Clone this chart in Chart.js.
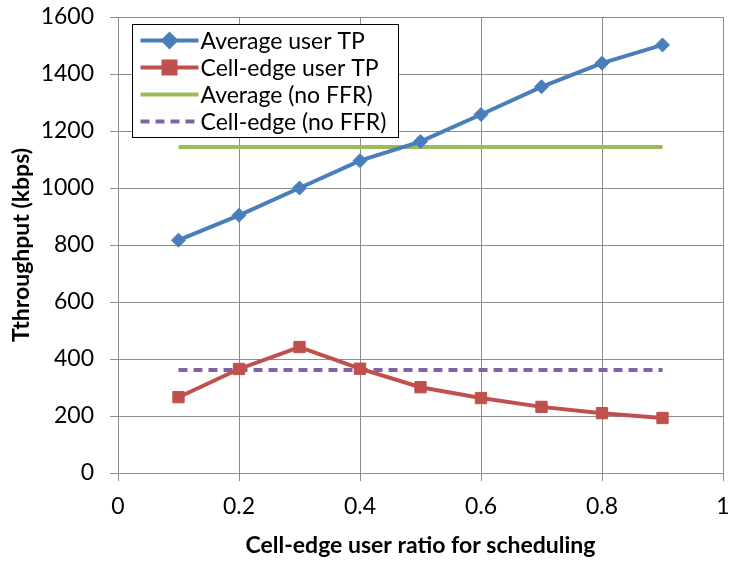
<!DOCTYPE html>
<html lang="en">
<head>
  <meta charset="UTF-8" />
  <title>Throughput vs cell-edge user ratio</title>
  <script src="https://cdn.jsdelivr.net/npm/chart.js"></script>
  <style>
    body {
      margin: 0;
      background: #fff;
    }
    .wrap {
      width: 732px;
      height: 563px;
    }
  </style>
</head>
<body>

<div class="wrap">
  <canvas id="tpChart" width="732" height="563"></canvas>
</div>

<script>
  const ratios = [0.1, 0.2, 0.3, 0.4, 0.5, 0.6, 0.7, 0.8, 0.9];
  const avgUserTp = [817, 904, 1000, 1096, 1163, 1258, 1355, 1438, 1502];
  const edgeUserTp = [266, 365, 442, 366, 301, 263, 232, 210, 193];
  const avgNoFfr = [1144, 1144, 1144, 1144, 1144, 1144, 1144, 1144, 1144];
  const edgeNoFfr = [361, 361, 361, 361, 361, 361, 361, 361, 361];

  const xTicks = [0, 0.2, 0.4, 0.6, 0.8, 1];
  const yTicks = [0, 200, 400, 600, 800, 1000, 1200, 1400, 1600];

  const FONT = 'Lato, "Open Sans", sans-serif';
  const FSIZE = 23;
  const GRID = '#8c8c8c';

  function points(ys) {
    return ratios.map((x, i) => ({ x: x, y: ys[i] }));
  }

  // legend drawn as a boxed panel inside the plot, top-left
  const insideLegend = {
    id: 'insideLegend',
    afterDraw(chart) {
      const ctx = chart.ctx;
      const box = { x: 132.5, y: 24.5, w: 266, h: 113 };
      const rowH = 27;
      ctx.save();
      ctx.fillStyle = '#fff';
      ctx.fillRect(box.x, box.y, box.w, box.h);
      ctx.strokeStyle = '#000';
      ctx.lineWidth = 1;
      ctx.strokeRect(box.x, box.y, box.w, box.h);

      chart.data.datasets.forEach((ds, i) => {
        const cy = box.y + 16 + i * rowH;
        const x0 = box.x + 8, x1 = box.x + 66;
        ctx.beginPath();
        ctx.setLineDash(ds.borderDash || []);
        ctx.strokeStyle = ds.borderColor;
        ctx.lineWidth = ds.borderWidth;
        ctx.lineCap = 'butt';
        ctx.moveTo(x0, cy);
        ctx.lineTo(x1, cy);
        ctx.stroke();
        ctx.setLineDash([]);

        const mx = (x0 + x1) / 2;
        ctx.fillStyle = ds.pointBackgroundColor;
        if (ds.pointStyle === 'rectRot') {
          const r = 9;
          ctx.beginPath();
          ctx.moveTo(mx, cy - r);
          ctx.lineTo(mx + r, cy);
          ctx.lineTo(mx, cy + r);
          ctx.lineTo(mx - r, cy);
          ctx.closePath();
          ctx.fill();
        } else if (ds.pointStyle === 'rect') {
          ctx.fillRect(mx - 8, cy - 8, 16, 16);
        }

        ctx.fillStyle = '#000';
        ctx.font = FSIZE + 'px ' + FONT;
        ctx.textBaseline = 'middle';
        ctx.textAlign = 'left';
        ctx.fillText(ds.label, box.x + 68, cy + 1);
      });
      ctx.restore();
    }
  };

  const ctx = document.getElementById('tpChart').getContext('2d');

  new Chart(ctx, {
    type: 'line',
    data: {
      datasets: [
        {
          label: 'Average user TP',
          data: points(avgUserTp),
          borderColor: '#4a7ebb',
          backgroundColor: '#4a7ebb',
          pointBackgroundColor: '#4a7ebb',
          pointBorderColor: '#4a7ebb',
          borderWidth: 4,
          pointStyle: 'rectRot',
          pointRadius: 7,
          pointBorderWidth: 1
        },
        {
          label: 'Cell-edge user TP',
          data: points(edgeUserTp),
          borderColor: '#c0504d',
          backgroundColor: '#c0504d',
          pointBackgroundColor: '#c0504d',
          pointBorderColor: '#c0504d',
          borderWidth: 4,
          pointStyle: 'rect',
          pointRadius: 8,
          pointBorderWidth: 1
        },
        {
          label: 'Average (no FFR)',
          data: points(avgNoFfr),
          borderColor: '#9bbb59',
          backgroundColor: '#9bbb59',
          borderWidth: 4,
          pointRadius: 0
        },
        {
          label: 'Cell-edge (no FFR)',
          data: points(edgeNoFfr),
          borderColor: '#8064a2',
          backgroundColor: '#8064a2',
          borderWidth: 4,
          borderDash: [9, 6],
          pointRadius: 0
        }
      ]
    },
    options: {
      responsive: false,
      animation: false,
      layout: { padding: { top: 17, right: 9, left: 0, bottom: 0 } },
      plugins: {
        legend: { display: false },
        tooltip: { enabled: false }
      },
      scales: {
        x: {
          type: 'linear',
          min: 0,
          max: 1,
          afterBuildTicks(scale) {
            scale.ticks = xTicks.map(v => ({ value: v }));
          },
          afterFit(scale) {
            scale.height = 90;
            scale.paddingLeft = 0;
            scale.paddingRight = 0;
          },
          grid: { color: GRID, lineWidth: 1, tickLength: 8 },
          border: { color: GRID, width: 1 },
          ticks: {
            color: '#000',
            font: { family: FONT, size: FSIZE },
            padding: 12,
            maxRotation: 0,
            callback: v => String(Math.round(v * 10) / 10)
          },
          title: {
            display: true,
            text: 'Cell-edge user ratio for scheduling',
            color: '#000',
            font: { family: FONT, size: FSIZE, weight: 'bold' },
            padding: { top: 8, bottom: 4 }
          }
        },
        y: {
          min: 0,
          max: 1600,
          afterBuildTicks(scale) {
            scale.ticks = yTicks.map(v => ({ value: v }));
          },
          afterFit(scale) {
            scale.width = 118;
            scale.paddingTop = 0;
            scale.paddingBottom = 0;
          },
          grid: { color: GRID, lineWidth: 1, tickLength: 8 },
          border: { color: GRID, width: 1 },
          ticks: {
            color: '#000',
            font: { family: FONT, size: FSIZE },
            padding: 16,
            callback: v => String(v)
          },
          title: {
            display: true,
            text: 'Tthroughput (kbps)',
            color: '#000',
            font: { family: FONT, size: FSIZE, weight: 'bold' },
            padding: { top: 8, bottom: 4 }
          }
        }
      }
    },
    plugins: [insideLegend]
  });
</script>

</body>
</html>
